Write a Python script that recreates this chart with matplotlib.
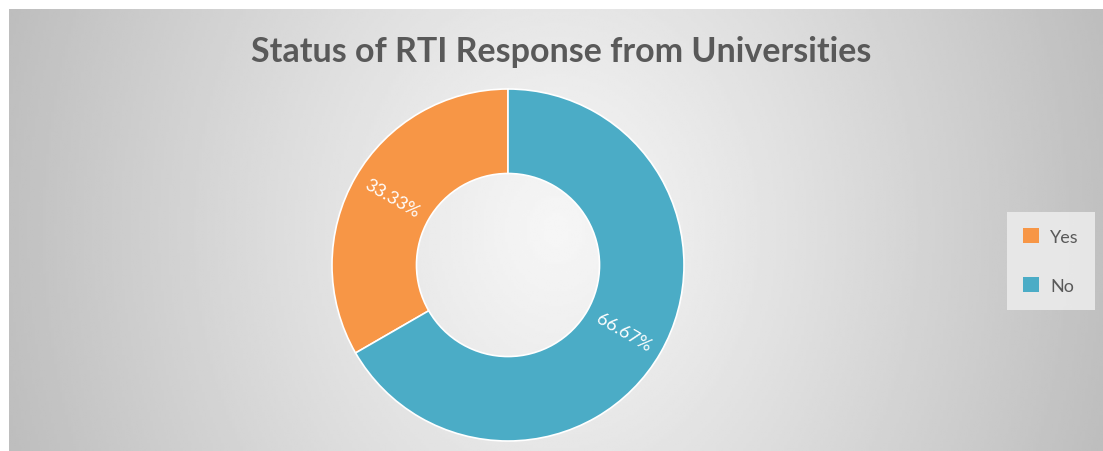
import numpy as np
import matplotlib
matplotlib.use("Agg")
import matplotlib.pyplot as plt
from matplotlib.patches import Patch, Rectangle

# data
labels = ["Yes", "No"]
shares = [33.33, 66.67]
colors = ["#F79646", "#4BACC6"]
title = "Status of RTI Response from Universities"

W, H = 1103, 452
INK = "#595959"

fig = plt.figure(figsize=(W / 100, H / 100), dpi=100)
fig.patch.set_facecolor("#c4c4c4")

# chart area: grey gradient, light in the middle, darker at the sides
bg = fig.add_axes([9 / W, 0, 1 - 9 / W, 442 / H])
xx, yy = np.meshgrid(np.linspace(-1, 1, 400), np.linspace(-1, 1, 200))
d = np.sqrt(xx ** 2 + (yy / 3.0) ** 2)
shade = 0.965 - 0.21 * np.clip(d, 0, 1.1) ** 1.1
bg.imshow(shade, cmap="gray", vmin=0, vmax=1, aspect="auto",
          extent=[0, 1, 0, 1], interpolation="bilinear")
bg.set_xlim(0, 1)
bg.set_ylim(0, 1)
bg.set_axis_off()

# white page margin on the left and top
fig.patches.append(Rectangle((0, 0), 9 / W, 1, transform=fig.transFigure,
                             facecolor="white", edgecolor="none", zorder=0))
fig.patches.append(Rectangle((0, 442 / H), 1, 10 / H, transform=fig.transFigure,
                             facecolor="white", edgecolor="none", zorder=0))

# donut
cx, cy, r = 508, 266, 176
ax = fig.add_axes([(cx - r) / W, (H - cy - r) / H, 2 * r / W, 2 * r / H])
wedges, _ = ax.pie(shares, colors=colors, startangle=90, counterclock=True,
                   radius=1, wedgeprops=dict(width=0.48, edgecolor="white",
                                             linewidth=1.2))
ax.set_xlim(-1, 1)
ax.set_ylim(-1, 1)

for w, v in zip(wedges, shares):
    ang = np.deg2rad((w.theta1 + w.theta2) / 2)
    rr = 0.76
    rot = np.rad2deg(ang)
    if np.cos(ang) < 0:
        rot -= 180
    ax.text(rr * np.cos(ang), rr * np.sin(ang), f"{v:.2f}%", color="white",
            fontsize=13, family="Lato", ha="center", va="center",
            rotation=rot, rotation_mode="anchor")

fig.text(561 / W, 1 - 52 / H, title, ha="center", va="center",
         fontsize=24.5, fontweight="bold", family="Lato", color=INK)

handles = [Patch(facecolor=c, edgecolor="none") for c in colors]
leg = fig.legend(handles, labels, loc="center",
                 bbox_to_anchor=(1051 / W, 1 - 262 / H),
                 frameon=True, labelcolor=INK,
                 handlelength=0.9, handleheight=0.9, labelspacing=1.8,
                 borderpad=0.9, handletextpad=0.6, prop=dict(family="Lato", size=13))
leg.get_frame().set_facecolor("#ebebeb")
leg.get_frame().set_edgecolor("none")
leg.get_frame().set_alpha(0.9)
leg.get_frame().set_boxstyle("square", pad=0.0)

fig.savefig("out.png", dpi=100)
